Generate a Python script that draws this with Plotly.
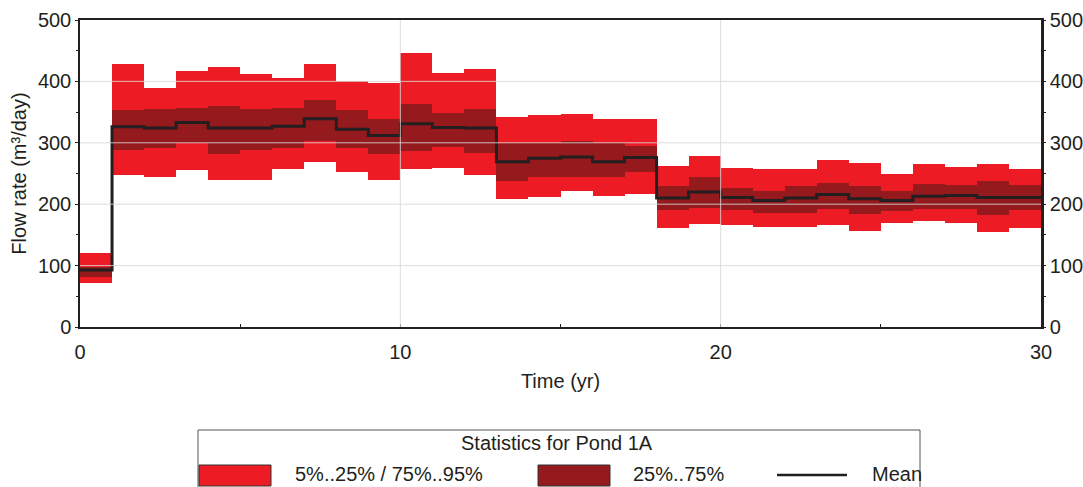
import plotly.graph_objects as go

# ---- data ----
years = list(range(0, 31))  # step edges, yearly
p95 = [120, 428, 390, 417, 423, 412, 405, 429, 400, 398, 446, 414, 420, 342, 346,
       347, 339, 339, 263, 279, 259, 257, 257, 272, 267, 249, 265, 261, 265, 258]
p75 = [98, 353, 355, 357, 360, 355, 357, 369, 353, 339, 363, 349, 355, 299, 299,
       303, 300, 295, 230, 245, 227, 221, 229, 235, 230, 221, 233, 231, 238, 231]
mean = [93, 326, 324, 333, 324, 324, 327, 339, 322, 312, 331, 325, 324, 269, 275,
        277, 269, 276, 210, 220, 211, 206, 210, 216, 209, 206, 213, 214, 211, 211]
p25 = [82, 288, 292, 299, 282, 288, 291, 303, 291, 281, 287, 293, 284, 238, 245,
       245, 245, 253, 191, 194, 191, 186, 186, 192, 184, 189, 193, 193, 183, 190]
p5 = [72, 248, 245, 256, 239, 239, 257, 269, 252, 240, 257, 259, 247, 209, 211,
      222, 213, 217, 162, 168, 166, 163, 163, 166, 156, 169, 173, 170, 155, 162]

y_ticks = [0, 100, 200, 300, 400, 500]
x_ticks = [0, 10, 20, 30]
legend_title = "Statistics for Pond 1A"
legend_labels = ["5%..25% / 75%..95%", "25%..75%", "Mean"]

RED = "#ED1C24"
DARK = "#941A1D"
LINE = "#231F20"
FONT = "Liberation Sans, Arial, sans-serif"
FS = 20

W, H = 1083, 487
L, R, T, B = 80, 42, 20, 160
PW, PH = W - L - R, H - T - B

def px(xp):
    return (xp - L) / PW

def py(yp):
    return (H - B - yp) / PH

centers = [(years[i] + years[i + 1]) / 2 for i in range(len(p95))]

fig = go.Figure()
fig.add_trace(go.Bar(x=centers, base=p5, y=[a - b for a, b in zip(p95, p5)],
                     width=1, marker=dict(color=RED, line=dict(width=0)),
                     name=legend_labels[0], showlegend=False, hoverinfo="skip"))
fig.add_trace(go.Bar(x=centers, base=p25, y=[a - b for a, b in zip(p75, p25)],
                     width=1, marker=dict(color=DARK, line=dict(width=0)),
                     name=legend_labels[1], showlegend=False, hoverinfo="skip"))
fig.add_trace(go.Scatter(x=years, y=mean + [mean[-1]], mode="lines",
                         line=dict(color=LINE, width=3, shape="hv"),
                         name=legend_labels[2], showlegend=False, yaxis="y2"))

shapes = []
# gridlines drawn over the bands
for v in y_ticks[1:-1]:
    shapes.append(dict(type="line", xref="x", yref="y", x0=0, x1=30, y0=v, y1=v,
                       line=dict(color="rgba(215,215,215,0.85)", width=1), layer="above"))
for v in x_ticks[1:-1]:
    shapes.append(dict(type="line", xref="x", yref="y", x0=v, x1=v, y0=0, y1=500,
                       line=dict(color="rgba(215,215,215,0.85)", width=1), layer="above"))

# manual legend
shapes.append(dict(type="rect", xref="paper", yref="paper",
                   x0=px(198), x1=px(920), y0=py(430), y1=py(520),
                   line=dict(color="#555555", width=1), fillcolor="rgba(0,0,0,0)"))
shapes.append(dict(type="rect", xref="paper", yref="paper",
                   x0=px(199), x1=px(271), y0=py(465), y1=py(486),
                   line=dict(color="#333333", width=1), fillcolor=RED))
shapes.append(dict(type="rect", xref="paper", yref="paper",
                   x0=px(538), x1=px(610), y0=py(465), y1=py(486),
                   line=dict(color="#333333", width=1), fillcolor=DARK))
shapes.append(dict(type="line", xref="paper", yref="paper",
                   x0=px(777), x1=px(847), y0=py(475), y1=py(475),
                   line=dict(color=LINE, width=2.5)))

annotations = [
    dict(text=legend_title, xref="paper", yref="paper", x=px(557), y=py(443),
         xanchor="center", yanchor="middle", showarrow=False,
         font=dict(family=FONT, size=FS, color=LINE)),
    dict(text=legend_labels[0], xref="paper", yref="paper", x=px(293), y=py(474),
         xanchor="left", yanchor="middle", showarrow=False,
         font=dict(family=FONT, size=FS, color=LINE)),
    dict(text=legend_labels[1], xref="paper", yref="paper", x=px(631), y=py(474),
         xanchor="left", yanchor="middle", showarrow=False,
         font=dict(family=FONT, size=FS, color=LINE)),
    dict(text=legend_labels[2], xref="paper", yref="paper", x=px(870), y=py(474),
         xanchor="left", yanchor="middle", showarrow=False,
         font=dict(family=FONT, size=FS, color=LINE)),
]

fig.update_layout(
    width=W, height=H,
    margin=dict(l=L, r=R, t=T, b=B, pad=0, autoexpand=False),
    paper_bgcolor="white", plot_bgcolor="white",
    barmode="overlay", bargap=0,
    font=dict(family=FONT, size=FS, color=LINE),
    shapes=shapes, annotations=annotations,
    xaxis=dict(range=[0, 30], tickvals=x_ticks, showgrid=False, zeroline=False,
               automargin=False,
               showline=True, linecolor=LINE, linewidth=1.5, mirror=True,
               ticks="inside", ticklen=3, tickcolor=LINE,
               minor=dict(dtick=5, ticks="inside", ticklen=3, tickcolor=LINE),
               ticklabelstandoff=6,
               title=dict(text="Time (yr)", standoff=12, font=dict(size=FS))),
    yaxis=dict(range=[0, 500], tickvals=y_ticks, showgrid=False, zeroline=False,
               automargin=False,
               showline=True, linecolor=LINE, linewidth=1.5,
               ticks="outside", ticklen=3, tickcolor=LINE,
               minor=dict(dtick=50, ticks="outside", ticklen=2, tickcolor=LINE),
               title=dict(text="Flow rate (m³/day)", standoff=6, font=dict(size=FS))),
    yaxis2=dict(range=[0, 500], tickvals=y_ticks, overlaying="y", side="right",
                automargin=False,
                showgrid=False, zeroline=False, showline=True, linecolor=LINE,
                linewidth=2.5, ticks="outside", ticklen=2, tickcolor=LINE,
                minor=dict(dtick=50, ticks="outside", ticklen=2, tickcolor=LINE)),
)

fig.write_html("out.html")
